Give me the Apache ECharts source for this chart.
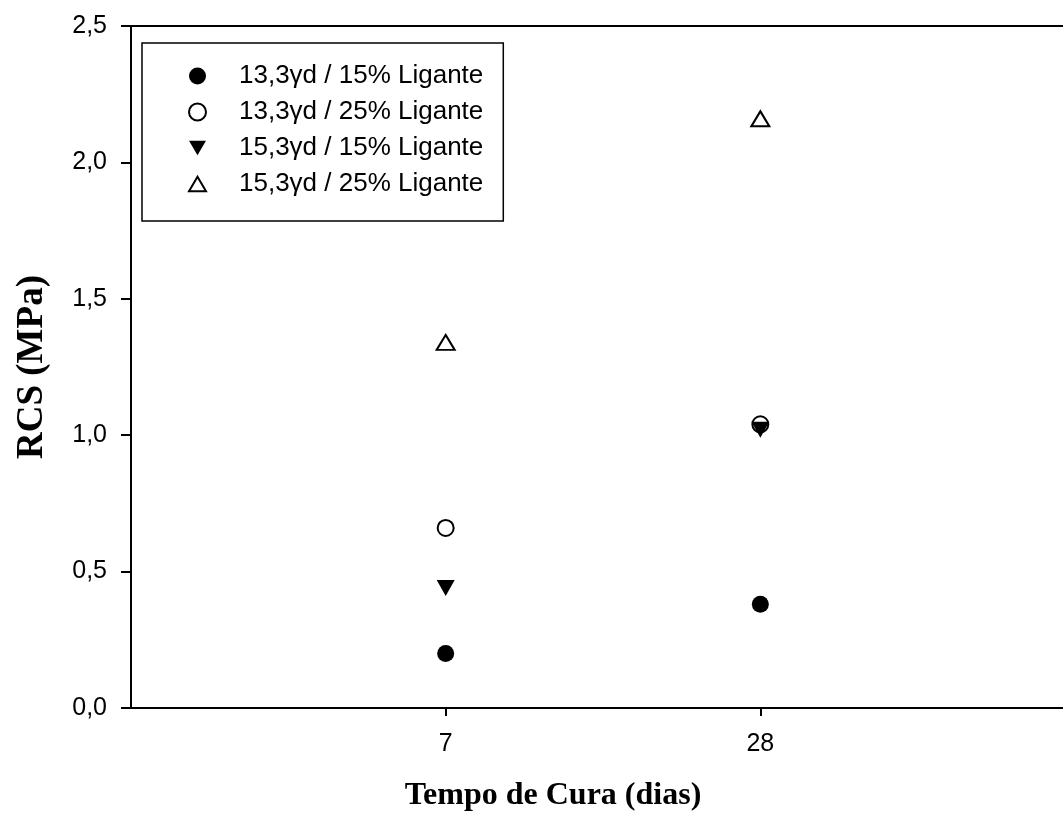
<!DOCTYPE html>
<html>
<head>
<meta charset="utf-8">
<script src="https://cdn.jsdelivr.net/npm/echarts@6/dist/echarts.min.js"></script>
<style>html,body{margin:0;padding:0;background:#fff;overflow:hidden;}#c{width:1075px;height:825px;}</style>
</head>
<body>
<div id="c"></div>
<script>
// categories (padded with empty slots at both ends, as in the original axis)
const xCategories = ['', '7', '28', ''];
const days = ['7', '28'];
const seriesNames = ['13,3\u03b3d / 15% Ligante', '13,3\u03b3d / 25% Ligante', '15,3\u03b3d / 15% Ligante', '15,3\u03b3d / 25% Ligante'];
const s1 = [0.20, 0.38];
const s2 = [0.66, 1.04];
const s3 = [0.44, 1.02];
const s4 = [1.34, 2.16];
const yTicks = [0, 0.5, 1.0, 1.5, 2.0, 2.5];

const pair = vals => days.map((d, i) => [d, vals[i]]);
const downTri = 'path://M0,0 L20,0 L10,17 Z';
const upTri = 'path://M10,0 L20,17 L0,17 Z';

const chart = echarts.init(document.getElementById('c'));
chart.setOption({
  animation: false,
  backgroundColor: '#fff',
  grid: { left: 131, top: 26, right: 0, bottom: 117, show: true, borderColor: '#000', borderWidth: 2, backgroundColor: 'transparent' },
  legend: {
    orient: 'vertical', left: 142, top: 43,
    padding: [20, 20, 24, 46],
    itemGap: 10, itemWidth: 17, itemHeight: 17,
    borderColor: '#000', borderWidth: 1.5, borderRadius: 0,
    textStyle: { fontFamily: 'Liberation Sans', fontSize: 26, color: '#000', padding: [0, 0, 0, 28] },
    data: seriesNames
  },
  xAxis: {
    type: 'category', data: xCategories, boundaryGap: false,
    axisLine: { lineStyle: { color: '#000', width: 2 } },
    axisTick: { length: 8, lineStyle: { color: '#000', width: 2 }, interval: (i, v) => v !== '' },
    axisLabel: { fontFamily: 'Liberation Sans', fontSize: 25, color: '#000', margin: 24, interval: (i, v) => v !== '' },
    splitLine: { show: false },
    name: 'Tempo de Cura (dias)', nameLocation: 'middle', nameGap: 72,
    nameTextStyle: { fontFamily: 'Liberation Serif', fontWeight: 'bold', fontSize: 32, color: '#000', padding: [0, 100, 0, 0] }
  },
  yAxis: {
    type: 'value', min: yTicks[0], max: yTicks[yTicks.length - 1], interval: 0.5,
    axisLine: { show: true, lineStyle: { color: '#000', width: 2 } },
    axisTick: { show: true, length: 10, lineStyle: { color: '#000', width: 2 } },
    axisLabel: { fontFamily: 'Liberation Sans', fontSize: 25, color: '#000', margin: 24, formatter: v => v.toFixed(1).replace('.', ',') },
    splitLine: { show: false },
    name: 'RCS (MPa)', nameLocation: 'middle', nameRotate: 90, nameGap: 80,
    nameTextStyle: { fontFamily: 'Liberation Serif', fontWeight: 'bold', fontSize: 37, color: '#000' }
  },
  series: [
    { name: seriesNames[0], type: 'scatter', data: pair(s1), symbol: 'circle', symbolSize: 17, itemStyle: { color: '#000', opacity: 1 } },
    { name: seriesNames[1], type: 'scatter', data: pair(s2), symbol: 'circle', symbolSize: 16, itemStyle: { color: '#fff', borderColor: '#000', borderWidth: 2, opacity: 1 } },
    { name: seriesNames[2], type: 'scatter', data: pair(s3), symbol: downTri, symbolSize: [18, 16], itemStyle: { color: '#000', opacity: 1 } },
    { name: seriesNames[3], type: 'scatter', data: pair(s4), symbol: upTri, symbolSize: [18, 15], itemStyle: { color: '#fff', borderColor: '#000', borderWidth: 2, opacity: 1 } }
  ]
});
</script>
</body>
</html>
